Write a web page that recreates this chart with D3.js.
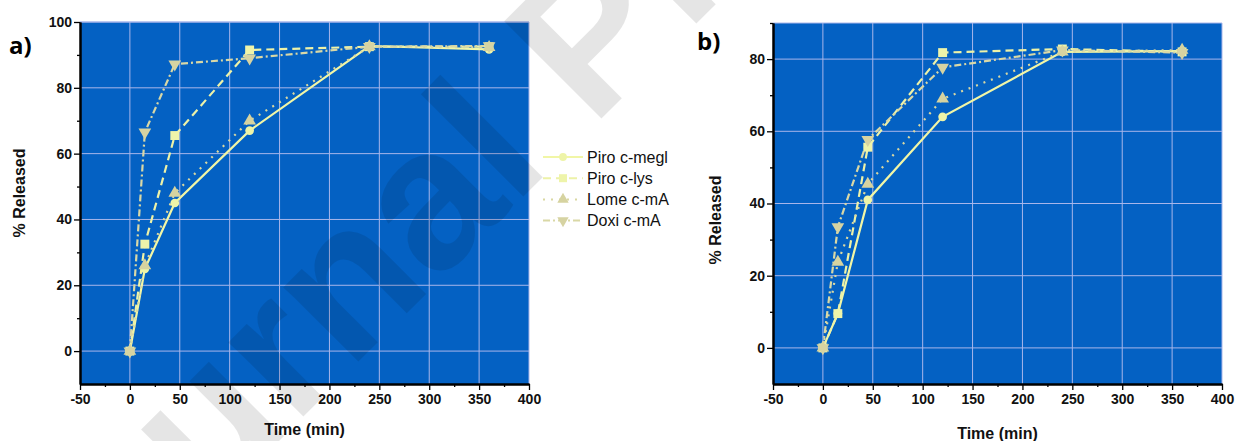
<!DOCTYPE html>
<html><head><meta charset="utf-8">
<script src="https://cdn.jsdelivr.net/npm/d3@7"></script>
<style>body{margin:0;background:#fff;} svg{display:block}</style>
</head><body>
<svg id="c" width="1237" height="441"></svg>
<script>
// ---- data ----
const times = [0, 15, 45, 120, 240, 360];
const seriesNames = ["Piro c-megl", "Piro c-lys", "Lome c-mA", "Doxi c-mA"];
const aPiroMegl = [0, 25, 45, 67, 92.7, 91.7];
const aPiroLys  = [0, 32.5, 65.5, 91.5, 92.5, 92.5];
const aLome     = [0, 26, 48, 70, 92.5, 92.3];
const aDoxi     = [0, 66.5, 87.2, 89, 92.5, 92.7];
const bPiroMegl = [0, 9.5, 41, 64, 82, 82.2];
const bPiroLys  = [0, 9.5, 55.6, 81.8, 82.8, 82];
const bLome     = [0, 23.8, 45.4, 69, 82, 82.5];
const bDoxi     = [0, 33.5, 57.7, 77.7, 82.5, 81.8];
const xTicks  = [-50, 0, 50, 100, 150, 200, 250, 300, 350, 400];
const aYTicks = [0, 20, 40, 60, 80, 100];
const bYTicks = [0, 20, 40, 60, 80];

// ---- styles ----
const styles = [
  {stroke: "#f1f6a6", dash: null, sym: d3.symbolCircle, size: 60, rot: 0, fill: "#eef4a8"},
  {stroke: "#edf2a8", dash: "8,5", sym: d3.symbolSquare, size: 80, rot: 0, fill: "#eef4aa"},
  {stroke: "#d9d8a2", dash: "2,6", sym: d3.symbolTriangle, size: 70, rot: 0, fill: "#d6d3a0"},
  {stroke: "#d9d8a6", dash: "7,3,2,3", sym: d3.symbolTriangle, size: 70, rot: 180, fill: "#d6d3a2"}
];

const svg = d3.select("#c");
const font = "'Liberation Sans', Arial, sans-serif";

function panel(cfg) {
  const x = d3.scaleLinear().domain([-50, 400]).range([cfg.left, cfg.right]);
  const y = d3.scaleLinear().domain(cfg.yDomain).range([cfg.bottom, cfg.top]);
  const g = svg.append("g");
  g.append("rect").attr("x", cfg.left).attr("y", cfg.top)
    .attr("width", cfg.right - cfg.left).attr("height", cfg.bottom - cfg.top)
    .attr("fill", "#0461c3");
  // grid
  const gridX = xTicks.filter(d => d > -50);
  g.selectAll(".gx").data(gridX).enter().append("line")
    .attr("x1", d => x(d)).attr("x2", d => x(d)).attr("y1", cfg.top).attr("y2", cfg.bottom)
    .attr("stroke", "#a9b6ea").attr("stroke-width", 1);
  g.selectAll(".gy").data(cfg.yTicks.concat([cfg.yDomain[1]])).enter().append("line")
    .attr("x1", cfg.left).attr("x2", cfg.right).attr("y1", d => y(d)).attr("y2", d => y(d))
    .attr("stroke", "#a9b6ea").attr("stroke-width", 1);

  const fmt = d => String(d);
  // axes
  const ax = g.append("g").attr("transform", `translate(0,${cfg.bottom})`)
    .call(d3.axisBottom(x).tickValues(xTicks).tickFormat(fmt).tickSize(6).tickSizeOuter(0).tickPadding(4));
  const axm = g.append("g").attr("transform", `translate(0,${cfg.bottom})`)
    .call(d3.axisBottom(x).tickValues(d3.range(-25, 400, 50)).tickSize(3).tickFormat("").tickSizeOuter(0));
  const ay = g.append("g").attr("transform", `translate(${cfg.left},0)`)
    .call(d3.axisLeft(y).tickValues(cfg.yTicks).tickFormat(fmt).tickSize(6).tickSizeOuter(0).tickPadding(2));
  const minorY = d3.range(-10, cfg.yDomain[1] + 1, 20).filter(v => v > cfg.yDomain[0]);
  const aym = g.append("g").attr("transform", `translate(${cfg.left},0)`)
    .call(d3.axisLeft(y).tickValues(minorY).tickSize(3).tickFormat("").tickSizeOuter(0));
  [ax, axm, ay, aym].forEach(a => {
    a.select(".domain").attr("stroke", "#000").attr("stroke-width", 2);
    a.selectAll(".tick line").attr("stroke", "#000").attr("stroke-width", 1.3);
    a.selectAll("text").attr("font-family", font).attr("font-weight", "bold")
      .attr("font-size", 14).attr("fill", "#111");
  });

  // series
  cfg.series.forEach((vals, i) => {
    const st = styles[i];
    const pts = times.map((t, j) => [t, vals[j]]);
    const line = d3.line().x(d => x(d[0])).y(d => y(d[1])).curve(d3.curveLinear);
    g.append("path").attr("d", line(pts)).attr("fill", "none")
      .attr("stroke", st.stroke).attr("stroke-width", 2.2)
      .attr("stroke-dasharray", st.dash);
  });
  cfg.series.forEach((vals, i) => {
    const st = styles[i];
    const pts = times.map((t, j) => [t, vals[j]]);
    g.selectAll(null).data(pts).enter().append("path")
      .attr("d", d3.symbol().type(st.sym).size(st.size))
      .attr("transform", d => `translate(${x(d[0])},${y(d[1])}) rotate(${st.rot})`)
      .attr("fill", st.fill);
  });

  // labels
  g.append("text").attr("x", cfg.labelX).attr("y", cfg.labelY).text(cfg.label)
    .attr("font-family", "'Open Sans', sans-serif").attr("font-weight", "bold")
    .attr("font-size", 24).attr("fill", "#000");
  g.append("text").attr("x", (cfg.left + cfg.right) / 2).attr("y", cfg.xTitleY)
    .attr("text-anchor", "middle").text("Time (min)")
    .attr("font-family", font).attr("font-weight", "bold").attr("font-size", 16).attr("fill", "#111");
  g.append("text").attr("transform", `translate(${cfg.yTitleX},${cfg.yTitleY}) rotate(-90)`)
    .attr("text-anchor", "middle").text("% Released")
    .attr("font-family", font).attr("font-weight", "bold").attr("font-size", 16).attr("fill", "#111");
  return {x, y};
}

panel({left: 80, right: 529, top: 22, bottom: 384, yDomain: [-10, 100], yTicks: aYTicks,
  series: [aPiroMegl, aPiroLys, aLome, aDoxi], label: "a)", labelX: 9, labelY: 54,
  xTitleY: 435, yTitleX: 25, yTitleY: 193});
panel({left: 773, right: 1222, top: 23, bottom: 384, yDomain: [-10, 90], yTicks: bYTicks,
  series: [bPiroMegl, bPiroLys, bLome, bDoxi], label: "b)", labelX: 697, labelY: 50,
  xTitleY: 439, yTitleX: 721, yTitleY: 220});

// legend
const lg = svg.append("g");
seriesNames.forEach((name, i) => {
  const st = styles[i];
  const yy = 157 + i * 21.2;
  lg.append("line").attr("x1", 543).attr("x2", 583).attr("y1", yy).attr("y2", yy)
    .attr("stroke", st.stroke).attr("stroke-width", 2).attr("stroke-dasharray", st.dash);
  lg.append("path").attr("d", d3.symbol().type(st.sym).size(st.size * 0.8))
    .attr("transform", `translate(563,${yy}) rotate(${st.rot})`).attr("fill", st.fill);
  lg.append("text").attr("x", 587).attr("y", yy + 5.5).text(name)
    .attr("font-family", font).attr("font-size", 16).attr("fill", "#111");
});

// watermark
svg.append("text").attr("transform", "translate(42,678) rotate(-45)")
  .text("Journal Pre-proof")
  .attr("font-family", font).attr("font-weight", "bold").attr("font-size", 200)
  .attr("fill", "#000").attr("fill-opacity", 0.1).attr("pointer-events", "none");
</script>
</body></html>
